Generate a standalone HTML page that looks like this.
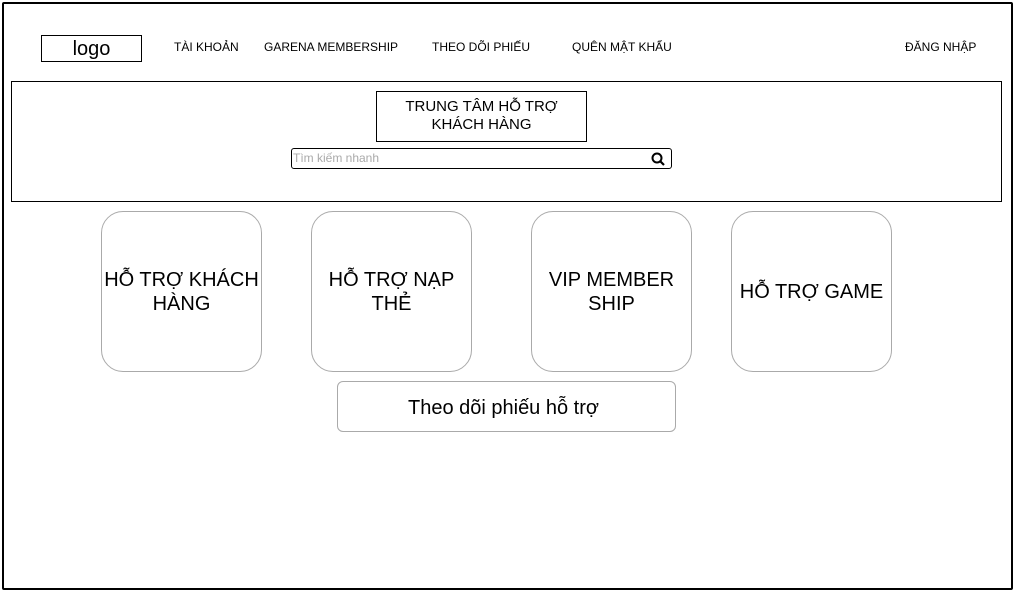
<!DOCTYPE html>
<html><head><meta charset="utf-8"><style>
*{margin:0;padding:0;box-sizing:border-box}
body{width:1032px;height:593px;background:#fff;position:relative;overflow:hidden;font-family:"Liberation Sans",Arial,sans-serif;color:#000}
.a{position:absolute}
.nav{font-size:12px;top:40px}
.card{position:absolute;width:161px;height:161px;border:1px solid #aaa;border-radius:22px;display:flex;align-items:center;justify-content:center;text-align:center;font-size:20px;line-height:24px}
</style></head><body>
<div class="a" style="left:2px;top:2px;width:1011px;height:588px;border:2px solid #000;border-radius:2px"></div>
<div class="a" style="left:41px;top:35px;width:101px;height:27px;border:1px solid #000;font-size:20px;text-align:center;line-height:27px">logo</div>
<div class="a nav" style="left:174px">TÀI KHOẢN</div>
<div class="a nav" style="left:264px">GARENA MEMBERSHIP</div>
<div class="a nav" style="left:432px">THEO DÕI PHIẾU</div>
<div class="a nav" style="left:572px">QUÊN MẬT KHẨU</div>
<div class="a nav" style="left:905px">ĐĂNG NHẬP</div>
<div class="a" style="left:11px;top:81px;width:991px;height:121px;border:1px solid #000"></div>
<div class="a" style="left:376px;top:91px;width:211px;height:51px;border:1px solid #000;font-size:15px;text-align:center;padding-top:6px;line-height:18px">TRUNG TÂM HỖ TRỢ<br>KHÁCH HÀNG</div>
<div class="a" style="left:291px;top:148px;width:381px;height:21px;border:1px solid #000;border-radius:3px;font-size:12px;color:#aaa;line-height:18px;padding-left:1px">Tìm kiếm nhanh
<svg class="a" style="right:5px;top:3px" width="15" height="14" viewBox="0 0 15 14"><circle cx="6" cy="6" r="4.5" fill="none" stroke="#000" stroke-width="2"/><line x1="9.5" y1="9.5" x2="13" y2="13" stroke="#000" stroke-width="2.2"/></svg></div>
<div class="card" style="left:101px;top:211px">HỖ TRỢ KHÁCH<br>HÀNG</div>
<div class="card" style="left:311px;top:211px">HỖ TRỢ NẠP<br>THẺ</div>
<div class="card" style="left:531px;top:211px">VIP MEMBER<br>SHIP</div>
<div class="card" style="left:731px;top:211px">HỖ TRỢ GAME</div>
<div class="a" style="left:337px;top:381px;width:339px;height:51px;border:1px solid #aaa;border-radius:6px;font-size:20px;text-align:center;line-height:52px;padding-right:6px">Theo dõi phiếu hỗ trợ</div>
</body></html>
